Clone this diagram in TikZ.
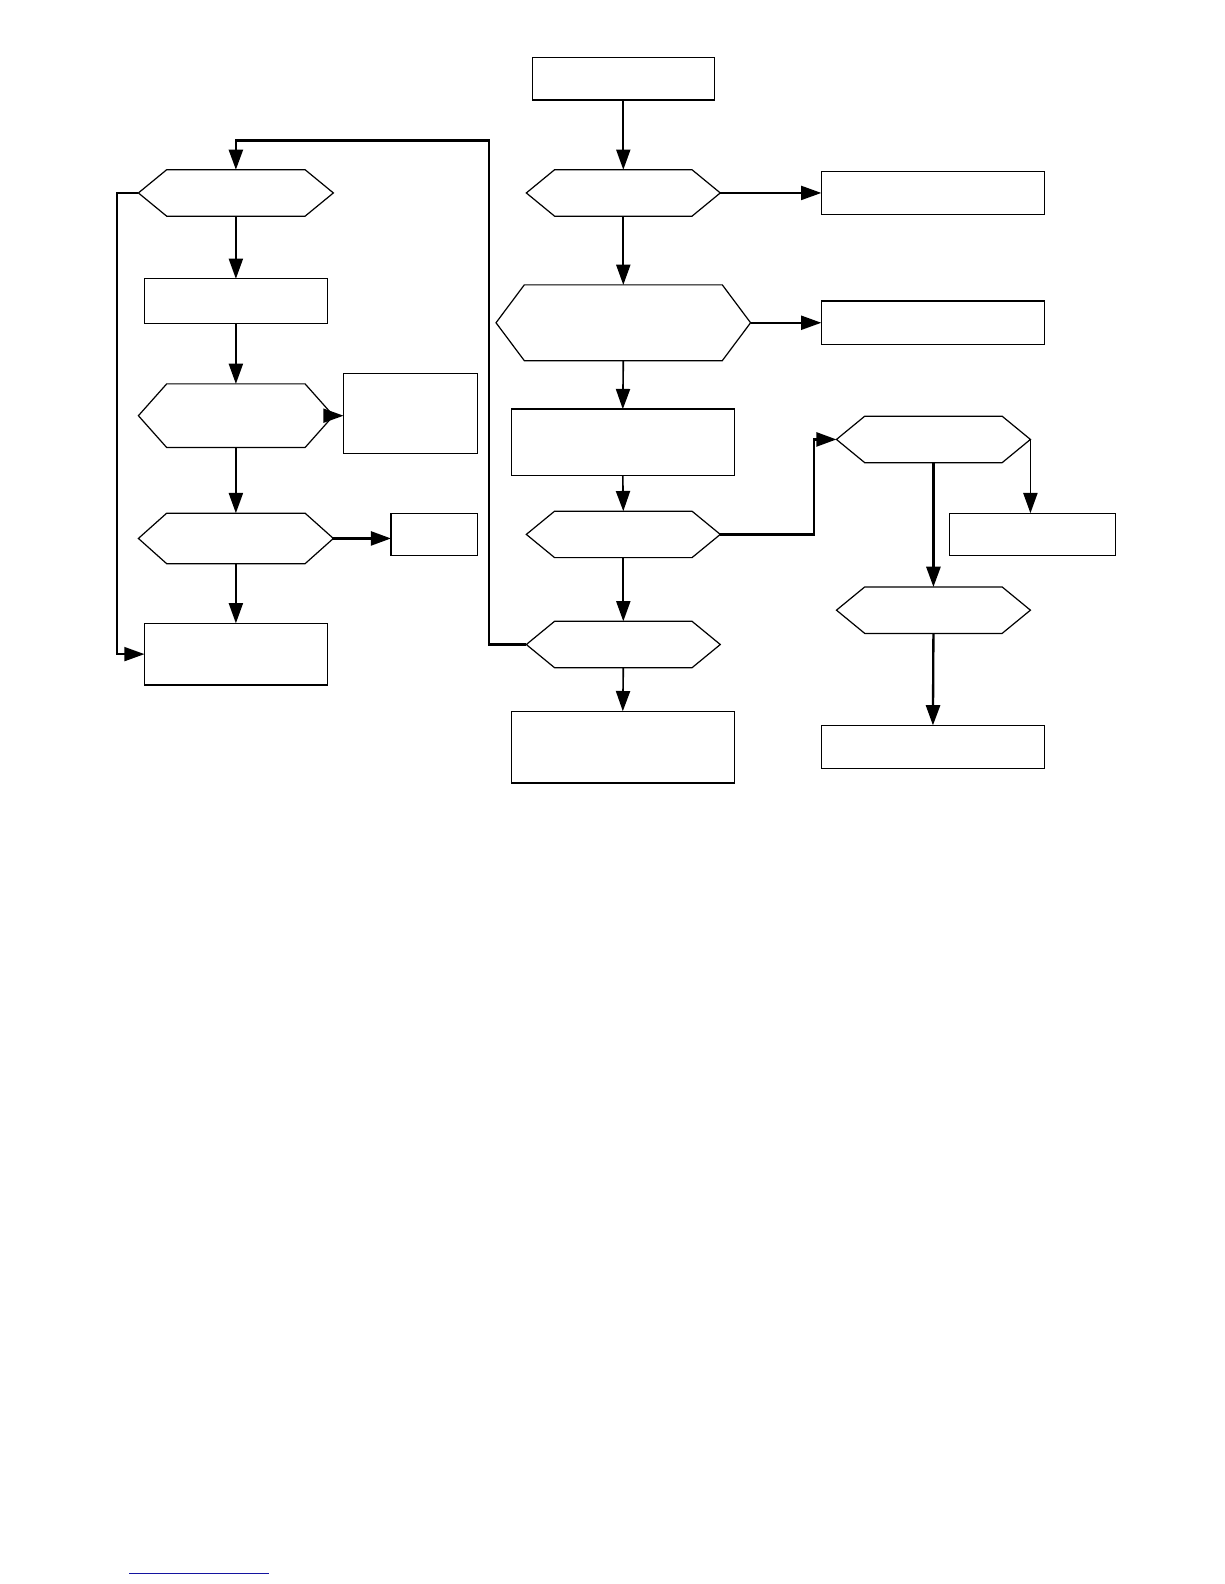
\documentclass[tikz,border=0pt]{standalone}
\usetikzlibrary{arrows.meta}
\tikzset{
  boxnode/.style={draw=black, line width=1.3pt, inner sep=0pt, outer sep=0pt, fill=white},
  hexnode/.style={inner sep=0pt, outer sep=0pt},
  hexline/.style={draw=black, line width=1.2pt, line join=miter},
  conn/.style={line width=1.6pt, -{Triangle[length=20pt,width=14pt]}},
  connthick/.style={line width=2.3pt, -{Triangle[length=20pt,width=14pt]}},
  linethick/.style={line width=2.3pt}
}
\newcommand{\myhex}[5]{%
  \node[hexnode, minimum width=#4, minimum height=#5] (#1) at (#2,#3) {};
  \draw[hexline] (#1.west) -- ([xshift=28]#1.north west) -- ([xshift=-28]#1.north east)
    -- (#1.east) -- ([xshift=-28]#1.south east) -- ([xshift=28]#1.south west) -- cycle;}
\newcommand{\mybox}[5]{%
  \node[boxnode, minimum width=#4, minimum height=#5] (#1) at (#2,#3) {};}
\begin{document}
\begin{tikzpicture}[x=1pt,y=-1pt]
\useasboundingbox (0,0) rectangle (1212,1568);
% left column
\myhex{h1}{233.5}{191}{193}{46}
\mybox{b1}{233.5}{298}{181}{44}
\myhex{h2}{233.5}{411.5}{193}{63}
\mybox{s1}{406.5}{409.5}{133}{79}
\myhex{h3}{233.5}{533}{193}{50}
\mybox{s2}{430}{529}{86}{42}
\mybox{b2}{233.5}{647.5}{181}{61}
% centre column
\mybox{t}{617}{78}{180}{42}
\myhex{ha}{617}{191}{192}{46}
\mybox{r1}{923.5}{191}{221}{42}
\myhex{hb}{617}{319.5}{252}{75}
\mybox{r2}{923.5}{319.5}{221}{43}
\mybox{c1}{616.5}{438}{221}{66}
\myhex{hc}{617}{529}{192}{46}
\myhex{hd}{617}{638}{192}{46}
\mybox{c2}{616.5}{739.5}{221}{71}
% right column
\myhex{he}{924}{435}{192}{46}
\mybox{r3}{1022}{529}{164}{42}
\myhex{hf}{924}{604}{192}{46}
\mybox{r4}{923.5}{739.5}{221}{43}
% helper coordinates
\coordinate (loopL) at (116,191);
\coordinate (loopR) at (484,139);
\coordinate (jog) at (806,435);
% left connectors
\draw[conn] (h1.south) -- (b1.north);
\draw[conn] (b1.south) -- (h2.north);
\draw[conn] (h2.south) -- (h3.north);
\draw[conn] (h3.south) -- (b2.north);
\draw[conn] (h2.east) -- (h2.east -| s1.west);
\draw[connthick] (h3.east) -- (h3.east -| s2.west);
\draw[conn] (h1.west) -- (loopL) |- (b2.west);
% centre connectors
\draw[conn] (t.south) -- (ha.north);
\draw[conn] (ha.south) -- (hb.north);
\draw[conn] (hb.south) -- (c1.north);
\draw[conn] (c1.south) -- (hc.north);
\draw[conn] (hc.south) -- (hd.north);
\draw[conn] (hd.south) -- (c2.north);
\draw[conn] (ha.east) -- (r1.west);
\draw[conn] (hb.east) -- (r2.west);
\draw[connthick] (hd.west) -| (loopR) -| (h1.north);
\draw[connthick] (hc.east) -| (jog) -- (he.west);
% right connectors
\draw[conn] (he.east) -- (he.east |- r3.north);
\draw[connthick] (he.south) -- (hf.north);
\draw[connthick] (hf.south) -- (r4.north);
% footer line
\draw[line width=1pt, draw={rgb,255:red,20;green,20;blue,160}] (128,1558) -- (266,1558);
\end{tikzpicture}
\end{document}
